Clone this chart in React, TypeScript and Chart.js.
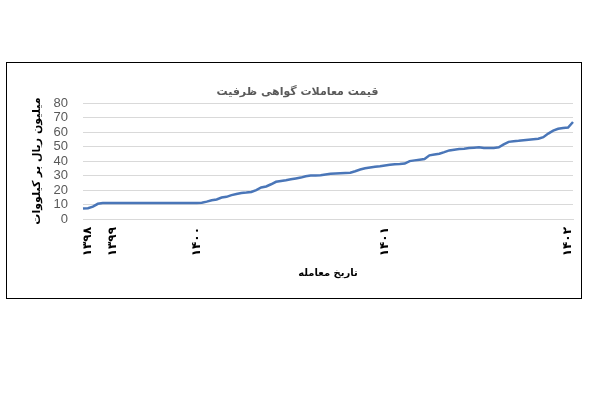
import { useEffect, useRef } from 'react';
import { Chart, registerables } from 'chart.js';

Chart.register(...registerables);

// Capacity certificate trade prices (million rials per kW), in trade order
const priceValues: number[] = [
  7.2, 7.4, 8.5, 10.5, 11, 11, 11, 11, 11, 11,
  11, 11, 11, 11, 11, 11, 11, 11, 11, 11,
  11, 11, 11, 11, 11.2, 12, 13, 13.5, 14.8, 15.3,
  16.5, 17.3, 18, 18.3, 18.7, 20, 21.8, 22.5, 24, 25.7,
  26.3, 26.8, 27.4, 28, 28.6, 29.5, 30.1, 30, 30.2, 30.7,
  31.2, 31.4, 31.6, 31.8, 32, 33, 34.2, 35, 35.6, 36.1,
  36.5, 37, 37.4, 37.8, 38, 38.3, 40, 40.5, 41, 41.4,
  44, 44.6, 45.1, 46.2, 47.4, 47.9, 48.3, 48.6, 49, 49.3,
  49.6, 49, 49, 49.1, 49.5, 51.5, 53.3, 53.7, 54, 54.4,
  54.8, 55.1, 55.4, 56.5, 59, 61, 62.3, 62.8, 63.2, 67,
];

const yearLabels: string[] = ['۱۳۹۸', '۱۳۹۹', '۱۴۰۰', '۱۴۰۱', '۱۴۰۲'];
const yearTickIndices: number[] = [1, 6, 23, 61, 98];

const chartTitle = 'قیمت معاملات گواهی ظرفیت';
const yAxisTitle = 'میلیون ریال بر کیلووات';
const xAxisTitle = 'تاریخ معامله';

const yMin = 0;
const yMax = 80;
const yStep = 10;

export default function App() {
  const ref = useRef<HTMLCanvasElement>(null);

  useEffect(() => {
    if (!ref.current) return;
    const labels = priceValues.map((_, i) => {
      const k = yearTickIndices.indexOf(i);
      return k >= 0 ? yearLabels[k] : '';
    });
    const chart = new Chart(ref.current, {
      type: 'line',
      data: {
        labels,
        datasets: [
          {
            data: priceValues,
            borderColor: '#4a76b8',
            backgroundColor: '#4a76b8',
            borderWidth: 2.5,
            pointRadius: 0,
            tension: 0,
            fill: false,
          },
        ],
      },
      options: {
        responsive: false,
        animation: false,
        layout: { padding: { left: 15, right: 8, top: 0, bottom: 19 } },
        plugins: {
          legend: { display: false },
          tooltip: { enabled: false },
          title: {
            display: true,
            text: chartTitle,
            color: '#595959',
            font: { family: 'DejaVu Sans', size: 11, weight: 'bold' },
            padding: { top: 23, bottom: 4 },
          },
        },
        scales: {
          x: {
            grid: { display: false, drawTicks: false },
            border: { display: true, color: '#d9d9d9' },
            afterFit: (scale: any) => {
              scale.height = 60;
              scale.paddingLeft = 0;
              scale.paddingRight = 0;
            },
            ticks: {
              autoSkip: false,
              minRotation: 90,
              maxRotation: 90,
              color: '#000',
              padding: 8,
              font: { family: 'DejaVu Sans', size: 12, weight: 'bold' },
            },
            title: {
              display: true,
              text: xAxisTitle,
              color: '#000',
              font: { family: 'DejaVu Sans', size: 10, weight: 'bold' },
              padding: { top: 5, bottom: 0 },
            },
          },
          y: {
            min: yMin,
            max: yMax,
            grid: { color: '#d9d9d9', drawTicks: false },
            border: { display: false },
            afterFit: (scale: any) => {
              scale.width = 61;
            },
            ticks: {
              stepSize: yStep,
              autoSkip: false,
              color: '#595959',
              padding: 15,
              font: { family: 'Liberation Sans', size: 13 },
            },
            title: {
              display: true,
              text: yAxisTitle,
              color: '#000',
              font: { family: 'DejaVu Sans', size: 11, weight: 'bold' },
              padding: { top: 9, bottom: 0 },
            },
          },
        },
      },
    });
    return () => chart.destroy();
  }, []);

  return (
    <div
      style={{
        position: 'absolute',
        left: 6,
        top: 62,
        width: 576,
        height: 237,
        border: '1px solid #000',
        boxSizing: 'border-box',
        background: '#fff',
      }}
    >
      <canvas ref={ref} width={574} height={235} style={{ display: 'block' }} />
    </div>
  );
}
